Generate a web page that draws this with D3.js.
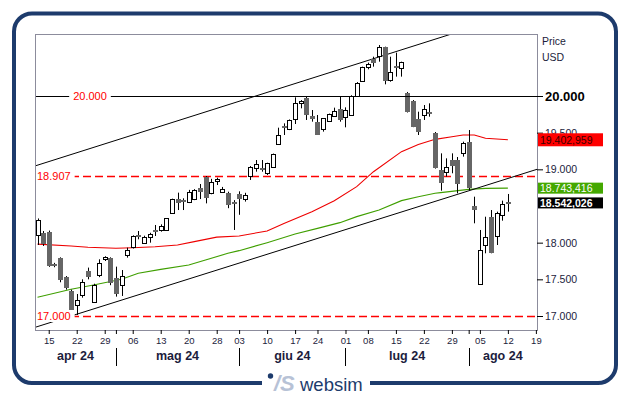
<!DOCTYPE html>
<html>
<head>
<meta charset="utf-8">
<script src="https://cdn.jsdelivr.net/npm/d3@7"></script>
<style>
  body { margin: 0; background: #fff; }
  svg { display: block; font-family: "Liberation Sans", Arial, sans-serif; }
</style>
</head>
<body>
<div id="chart"></div>
<script>
// Daily candles (trading days only)
const candleDates = [
  "2024-04-11","2024-04-12","2024-04-15","2024-04-16","2024-04-17","2024-04-18","2024-04-19",
  "2024-04-22","2024-04-23","2024-04-24","2024-04-25","2024-04-26",
  "2024-04-29","2024-04-30","2024-05-01","2024-05-02","2024-05-03",
  "2024-05-06","2024-05-07","2024-05-08","2024-05-09","2024-05-10",
  "2024-05-13","2024-05-14","2024-05-15","2024-05-16","2024-05-17",
  "2024-05-20","2024-05-21","2024-05-22","2024-05-23","2024-05-24",
  "2024-05-28","2024-05-29","2024-05-30","2024-05-31",
  "2024-06-03","2024-06-04","2024-06-05","2024-06-06","2024-06-07",
  "2024-06-10","2024-06-11","2024-06-12","2024-06-13","2024-06-14",
  "2024-06-17","2024-06-18","2024-06-20","2024-06-21",
  "2024-06-24","2024-06-25","2024-06-26","2024-06-27","2024-06-28",
  "2024-07-01","2024-07-02","2024-07-03","2024-07-05",
  "2024-07-08","2024-07-09","2024-07-10","2024-07-11","2024-07-12",
  "2024-07-15","2024-07-16","2024-07-17","2024-07-18","2024-07-19",
  "2024-07-22","2024-07-23","2024-07-24","2024-07-25","2024-07-26",
  "2024-07-29","2024-07-30","2024-07-31","2024-08-01","2024-08-02",
  "2024-08-05","2024-08-06","2024-08-07","2024-08-08","2024-08-09",
  "2024-08-12"
];
// empty days still on the time axis
const futureDates = ["2024-08-13","2024-08-14","2024-08-15","2024-08-16","2024-08-19"];

const open = [
  18105,18128,18150,17709,17787,17528,17345,
  17150,17286,17618,17195,17559,
  17777,17787,17514,17423,17832,
  17940,18105,17991,18073,18173,
  18173,18173,18409,18595,18582,
  18559,18595,18741,18900,18673,
  18845,18695,18680,18560,
  18664,18590,18909,19014,19023,
  18946,19036,19345,19591,19545,
  19682,19900,19968,19727,
  19650,19545,19664,19732,19818,
  19718,19741,20000,20209,
  20391,20500,20545,20664,20218,
  20409,20386,20045,19932,19686,
  19741,19786,19491,18991,18968,
  19127,19127,19218,19377,18500,
  17436,17968,18354,18095,18377,
  18550
];
const high = [
  18330,18159,18165,17725,17800,17545,17360,
  17300,17500,17660,17440,17773,
  17815,17800,17673,17627,17932,
  18100,18159,18095,18135,18241,
  18250,18332,18600,18682,18605,
  18720,18730,18800,18909,18870,
  18886,18760,18695,18580,
  18700,18680,19045,19127,19127,
  19090,19215,19568,19627,19680,
  19982,19945,19990,19809,
  19741,19700,19760,19841,20000,
  19845,20010,20190,20400,
  20455,20536,20695,20673,20536,
  20591,20468,20055,19945,19786,
  19877,19900,19509,19218,19150,
  19218,19168,19377,19536,18627,
  18173,18354,18445,18423,18573,
  18664
];
const low = [
  17968,17955,17670,17665,17460,17360,16975,
  17014,17250,17500,17180,17530,
  17750,17420,17264,17273,17796,
  17920,18046,17985,18000,18091,
  18150,18170,18400,18445,18445,
  18540,18580,18595,18536,18660,
  18786,18680,18470,18173,
  18380,18560,18855,18968,18968,
  18923,19030,19340,19468,19535,
  19618,19832,19673,19650,
  19468,19514,19655,19720,19650,
  19573,19730,19995,20195,
  20364,20400,20468,20159,20195,
  20264,20264,19775,19575,19468,
  19673,19718,19010,18709,18900,
  18946,18673,19173,18718,18264,
  17423,17855,17855,17968,18300,
  18423
];
const close = [
  18309,17985,17682,17686,17491,17377,16990,
  17218,17468,17528,17423,17718,
  17800,17445,17300,17545,17900,
  18090,18082,18082,18118,18155,
  18227,18332,18595,18545,18550,
  18695,18718,18695,18605,18832,
  18864,18727,18510,18537,
  18595,18650,19036,19068,18991,
  19082,19205,19468,19568,19673,
  19900,19932,19741,19686,
  19468,19695,19750,19795,19673,
  19809,20000,20182,20391,
  20436,20445,20673,20209,20323,
  20386,20459,19786,19582,19514,
  19818,19750,19014,18818,19036,
  19050,18800,19355,18741,18445,
  17900,18082,17864,18409,18527,
  18542.026
];

// moving averages
const maRed = [
  ["2024-04-11",17980],["2024-04-19",17955],["2024-04-24",17937],["2024-05-01",17923],
  ["2024-05-06",17930],["2024-05-10",17945],["2024-05-16",17968],["2024-05-21",18014],
  ["2024-05-28",18075],["2024-06-03",18091],["2024-06-10",18160],["2024-06-13",18260],
  ["2024-06-21",18423],["2024-06-27",18573],["2024-07-03",18764],["2024-07-09",18968],
  ["2024-07-16",19241],["2024-07-19",19340],["2024-07-24",19409],["2024-07-29",19445],
  ["2024-07-31",19468],["2024-08-02",19468],["2024-08-06",19423],["2024-08-12",19402.959]
];
const maGreen = [
  ["2024-04-11",17255],["2024-04-19",17364],["2024-04-25",17423],["2024-05-02",17500],
  ["2024-05-07",17582],["2024-05-13",17636],["2024-05-20",17695],["2024-05-23",17764],
  ["2024-05-30",17855],["2024-06-03",17891],["2024-06-10",18000],["2024-06-17",18118],
  ["2024-06-24",18195],["2024-06-28",18273],["2024-07-03",18355],["2024-07-10",18445],
  ["2024-07-16",18573],["2024-07-19",18627],["2024-07-24",18673],["2024-07-25",18682],
  ["2024-08-01",18727],["2024-08-06",18741],["2024-08-12",18743.416]
];

// trend channel, two anchor points each
const trendLower = [["2024-04-19",17000],["2024-08-01",18707]];
const trendUpper = [["2024-04-19",19202],["2024-07-11",20557]];

const levelSolid = [20000];
const levelDashed = [18907, 17000];
const yTicks = [17000, 17500, 18000, 19000, 19500, 20000];
const monthNames = ["gen","feb","mar","apr","mag","giu","lug","ago","set","ott","nov","dic"];

const W = 632, H = 397;
const plotL = 35, plotR = 537, plotT = 34, plotB = 330;
const navy = "#1d3b6c";
const textCol = "#1c1c3c";

const svg = d3.select('#chart').append('svg')
  .attr('width', W)
  .attr('height', H);

const allDays = candleDates.concat(futureDates);
const pos = new Map(allDays.map((d, i) => [d, i]));
const parse = d3.timeParse('%Y-%m-%d');

const x = d3.scaleLinear().domain([-0.45, 89.2]).range([plotL, plotR]);
const y = d3.scaleLinear().domain([17000, 20000]).range([316, 96]);

const itFmt = d3.formatLocale({ decimal: ",", thousands: ".", grouping: [3], currency: ["", ""] });
const fmt0 = itFmt.format(",.0f");
const fmt3 = itFmt.format(",.3f");

svg.append('defs').append('clipPath').attr('id', 'plot')
  .append('rect').attr('x', plotL).attr('y', plotT).attr('width', plotR - plotL).attr('height', plotB - plotT);

const plot = svg.append('g').attr('clip-path', 'url(#plot)');

// horizontal levels
levelSolid.forEach(v => {
  svg.append('line')
    .attr('x1', plotL).attr('x2', plotR + 6)
    .attr('y1', Math.round(y(v)) + 0.5).attr('y2', Math.round(y(v)) + 0.5)
    .attr('stroke', '#000').attr('stroke-width', 1.2);
});
levelDashed.forEach(v => {
  plot.append('line')
    .attr('x1', plotL).attr('x2', plotR)
    .attr('y1', Math.round(y(v)) + 0.5).attr('y2', Math.round(y(v)) + 0.5)
    .attr('stroke', '#f00').attr('stroke-width', 1.4)
    .attr('stroke-dasharray', '8,4');
});

// moving averages
const maLine = d3.line().x(d => x(pos.get(d[0]))).y(d => y(d[1]));
plot.append('path').attr('d', maLine(maRed))
  .attr('fill', 'none').attr('stroke', '#ee0000').attr('stroke-width', 1.1);
plot.append('path').attr('d', maLine(maGreen))
  .attr('fill', 'none').attr('stroke', '#3f9f00').attr('stroke-width', 1.1);

// trend channel, extended to the plot edges
[trendLower, trendUpper].forEach(t => {
  const k0 = pos.get(t[0][0]), k1 = pos.get(t[1][0]);
  const slope = (t[1][1] - t[0][1]) / (k1 - k0);
  const [d0, d1] = x.domain();
  plot.append('line')
    .attr('x1', x(d0)).attr('y1', y(t[0][1] + slope * (d0 - k0)))
    .attr('x2', x(d1)).attr('y2', y(t[0][1] + slope * (d1 - k0)))
    .attr('stroke', '#000').attr('stroke-width', 1);
});

// candles
const ohlc = candleDates.map((d, i) => ({ k: pos.get(d), o: open[i], h: high[i], l: low[i], c: close[i] }));

plot.selectAll('.wick').data(ohlc).join('line')
  .attr('class', 'wick')
  .attr('x1', d => Math.round(x(d.k)) + 0.5).attr('x2', d => Math.round(x(d.k)) + 0.5)
  .attr('y1', d => y(d.h)).attr('y2', d => y(d.l))
  .attr('stroke', '#000').attr('stroke-width', 1);

plot.selectAll('.up').data(ohlc.filter(d => d.c >= d.o)).join('rect')
  .attr('class', 'up')
  .attr('x', d => Math.round(x(d.k)) - 1.5)
  .attr('y', d => Math.round(y(d.c)) + 0.5)
  .attr('width', 4)
  .attr('height', d => Math.max(1, Math.round(y(d.o)) - Math.round(y(d.c))))
  .attr('fill', '#fff').attr('stroke', '#000').attr('stroke-width', 1);

plot.selectAll('.down').data(ohlc.filter(d => d.c < d.o)).join('rect')
  .attr('class', 'down')
  .attr('x', d => Math.round(x(d.k)) - 2)
  .attr('y', d => Math.round(y(d.o)))
  .attr('width', 5)
  .attr('height', d => Math.max(2, Math.round(y(d.c)) - Math.round(y(d.o))))
  .attr('fill', '#666');

// level labels with white background
function levelLabel(v, cx, anchor) {
  const t = svg.append('text')
    .attr('x', cx).attr('y', y(v) + 4)
    .attr('text-anchor', anchor)
    .attr('font-size', 11).attr('fill', '#f00')
    .text(fmt0(v));
  const b = t.node().getBBox();
  svg.insert('rect', () => t.node())
    .attr('x', b.x - 4).attr('y', b.y).attr('width', b.width + 8).attr('height', b.height)
    .attr('fill', '#fff');
}
levelLabel(levelSolid[0], 90, 'middle');
levelDashed.forEach(v => levelLabel(v, 37, 'start'));

// frame
svg.append('rect')
  .attr('x', plotL + 0.5).attr('y', plotT + 0.5)
  .attr('width', plotR - plotL).attr('height', plotB - plotT)
  .attr('fill', 'none').attr('stroke', '#8c8c9c').attr('stroke-width', 1);

// bottom axis: first trading day of each week
const weekStarts = [], monthStarts = [];
for (let k = 1; k < allDays.length; k++) {
  const a = parse(allDays[k - 1]), b = parse(allDays[k]);
  if (+d3.timeMonday.floor(a) !== +d3.timeMonday.floor(b)) weekStarts.push(k);
  if (a.getMonth() !== b.getMonth()) monthStarts.push(k);
}
const tickKs = Array.from(new Set(weekStarts.concat(monthStarts))).sort((a, b) => a - b);
const xAxis = svg.append('g')
  .attr('transform', `translate(0,${plotB})`)
  .call(d3.axisBottom(x)
    .tickValues(tickKs)
    .tickSize(4)
    .tickPadding(3)
    .tickFormat(k => weekStarts.includes(k) ? d3.timeFormat('%d')(parse(allDays[k])) : ''));
xAxis.select('.domain').remove();
xAxis.selectAll('line').attr('stroke', '#000');
xAxis.selectAll('text').attr('font-size', 9.5).attr('fill', textCol)
  .attr('font-family', '"Liberation Sans", Arial, sans-serif');

// month separators and labels
monthStarts.forEach(k => {
  svg.append('line')
    .attr('x1', Math.round(x(k)) + 0.5).attr('x2', Math.round(x(k)) + 0.5)
    .attr('y1', 348).attr('y2', 366)
    .attr('stroke', '#000').attr('stroke-width', 1);
});
const bounds = [plotL].concat(monthStarts.map(k => x(k)), [plotR]);
const firstMonth = parse(allDays[0]);
for (let i = 0; i < bounds.length - 1; i++) {
  const m = d3.timeMonth.offset(d3.timeMonth.floor(firstMonth), i);
  svg.append('text')
    .attr('x', (bounds[i] + bounds[i + 1]) / 2).attr('y', 360)
    .attr('text-anchor', 'middle')
    .attr('font-size', 12.5).attr('font-weight', 'bold').attr('fill', textCol)
    .text(monthNames[m.getMonth()] + ' ' + d3.timeFormat('%y')(m));
}

// right axis
const yAxis = svg.append('g')
  .attr('transform', `translate(${plotR},0)`)
  .call(d3.axisRight(y).tickValues(yTicks).tickSize(6).tickPadding(2).tickFormat(fmt0));
yAxis.select('.domain').remove();
yAxis.selectAll('line').attr('stroke', '#000');
yAxis.selectAll('text')
  .attr('font-family', '"Liberation Sans", Arial, sans-serif')
  .attr('font-size', d => d === 20000 ? 13 : 10.5)
  .attr('font-weight', d => d === 20000 ? 'bold' : 'normal')
  .attr('fill', d => d === 20000 ? '#000' : textCol);

svg.append('text').attr('x', 542).attr('y', 45).attr('font-size', 10.5).attr('fill', textCol).text('Price');
svg.append('text').attr('x', 542).attr('y', 61).attr('font-size', 10.5).attr('fill', textCol).text('USD');

// value boxes on the right
const boxes = [
  { v: maRed[maRed.length - 1][1], bg: '#f00', fg: '#3a0000', bold: false, h: 13 },
  { v: maGreen[maGreen.length - 1][1], bg: '#44a800', fg: '#fff', bold: false, h: 11 },
  { v: close[close.length - 1], bg: '#000', fg: '#fff', bold: true, h: 11 }
];
boxes.forEach(b => {
  const cy = y(b.v);
  svg.append('rect')
    .attr('x', 538).attr('y', cy - b.h / 2).attr('width', 65).attr('height', b.h)
    .attr('fill', b.bg);
  svg.append('text')
    .attr('x', 540).attr('y', cy + 4)
    .attr('font-size', 10.5).attr('font-weight', b.bold ? 'bold' : 'normal')
    .attr('fill', b.fg)
    .text(fmt3(b.v));
});

// outer rounded border with logo
svg.append('rect')
  .attr('x', 14).attr('y', 13.5).attr('width', 602).attr('height', 369.5)
  .attr('rx', 18).attr('ry', 18)
  .attr('fill', 'none').attr('stroke', navy).attr('stroke-width', 4);
svg.append('rect').attr('x', 262).attr('y', 370).attr('width', 108).attr('height', 27).attr('fill', '#fff');
svg.append('circle').attr('cx', 270.5).attr('cy', 376).attr('r', 2.7).attr('fill', navy);
svg.append('text')
  .attr('x', 274).attr('y', 391)
  .attr('font-size', 22).attr('font-style', 'italic').attr('font-weight', 'bold')
  .attr('fill', '#b7c2d6')
  .text('/S');
svg.append('text')
  .attr('x', 300).attr('y', 391)
  .attr('font-size', 18.5).attr('fill', navy)
  .text('websim');
</script>
</body>
</html>
